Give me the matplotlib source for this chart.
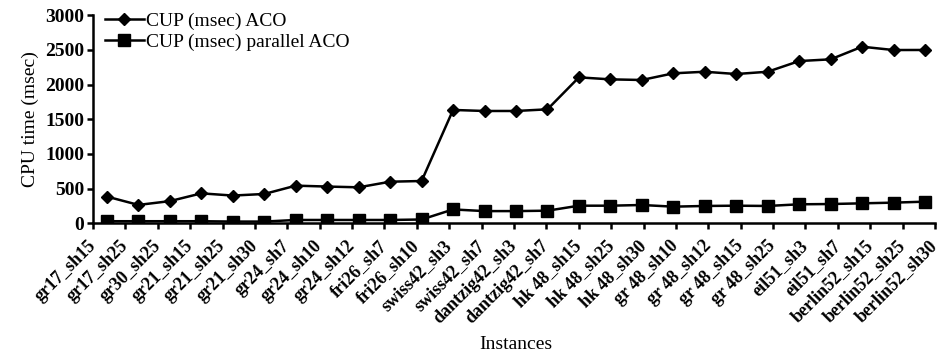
import numpy as np
import matplotlib.pyplot as plt
from matplotlib.transforms import ScaledTranslation

# CPU time per instance, sequential vs parallel ACO
instances = ["gr17_sh15", "gr17_sh25", "gr30_sh25", "gr21_sh15", "gr21_sh25",
             "gr21_sh30", "gr24_sh7", "gr24_sh10", "gr24_sh12", "fri26_sh7",
             "fri26_sh10", "swiss42_sh3", "swiss42_sh7", "dantzig42_sh3",
             "dantzig42_sh7", "hk 48_sh15", "hk 48_sh25", "hk 48_sh30",
             "gr 48_sh10", "gr 48_sh12", "gr 48_sh15", "gr 48_sh25", "eil51_sh3",
             "eil51_sh7", "berlin52_sh15", "berlin52_sh25", "berlin52_sh30"]
aco = [385, 265, 320, 432, 400, 423, 543, 530, 519, 600,
       610, 1635, 1620, 1620, 1644, 2105, 2076, 2067, 2163, 2186,
       2153, 2186, 2340, 2365, 2547, 2499, 2500]
parallel_aco = [30, 30, 30, 30, 25, 25, 48, 48, 48, 48,
                55, 200, 176, 176, 182, 254, 254, 264, 240, 250,
                254, 250, 274, 278, 288, 298, 312]

plt.rcParams["font.family"] = ["Liberation Serif", "DejaVu Serif"]

fig = plt.figure(figsize=(9.4, 3.51), dpi=100)
ax = fig.add_axes([93 / 940, 1 - 223.3 / 351, 842 / 940, 208 / 351])

x = np.arange(len(instances))
ax.plot(x, aco, color="black", lw=1.8, marker="D", ms=6.2,
        label="CUP (msec) ACO")
ax.plot(x, parallel_aco, color="black", lw=1.8, marker="s", ms=8.3,
        label="CUP (msec) parallel ACO")

ax.set_xlim(-0.445, 26.318)
ax.set_ylim(0, 3000)
ax.set_yticks(np.arange(0, 3001, 500))
ax.set_xticks(np.linspace(-0.445, 26.318, len(instances)))
ax.set_xticklabels(instances, rotation=45, ha="right", va="center",
                   rotation_mode="anchor", fontsize=13, fontweight="bold")
# nudge the slanted labels a little to the right
shift = ScaledTranslation(7 / 100, 0, fig.dpi_scale_trans)
for lbl in ax.get_xticklabels():
    lbl.set_transform(lbl.get_transform() + shift)
for lbl in ax.get_yticklabels():
    lbl.set_fontsize(14)
    lbl.set_fontweight("bold")

for side in ("top", "right"):
    ax.spines[side].set_visible(False)
for side in ("left", "bottom"):
    ax.spines[side].set_linewidth(1.8)
ax.tick_params(direction="out", length=4.5, width=1.8, pad=2)
ax.tick_params(axis="x", pad=10)

ax.set_xlabel("Instances", fontsize=14)
ax.set_ylabel("CPU time (msec)", fontsize=14, labelpad=4)
ax.xaxis.set_label_coords(0.502, -0.54)

ax.legend(loc="upper left", bbox_to_anchor=(0.014, 1.016), frameon=False,
          fontsize=14, handlelength=2.0, handletextpad=0.1,
          borderpad=0, labelspacing=0.2, borderaxespad=0)

fig.savefig("out.png", dpi=100)
